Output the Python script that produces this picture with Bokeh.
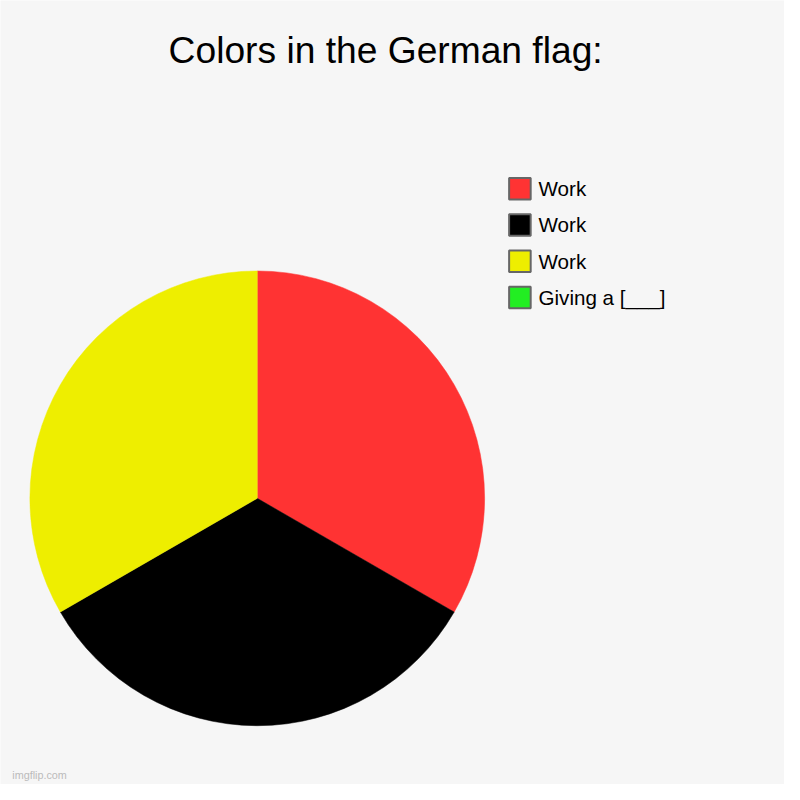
import numpy as np
from bokeh.plotting import figure
from bokeh.models import ColumnDataSource, Range1d
from bokeh.core.properties import value
from bokeh.embed import file_html
from bokeh.resources import INLINE

title_text = "Colors in the German flag:"
labels = ["Work", "Work", "Work", "Giving a [___]"]
values = [1, 1, 1, 0]
colors = ["#ff3333", "#000000", "#eeee00", "#22ee22"]

BG = "#f6f6f6"
FONT = "Liberation Sans"
S = 784 / 800  # pixel scale of the 784px figure vs the 800px reference

p = figure(width=784, height=784, output_backend="svg", toolbar_location=None,
           x_range=Range1d(0, 800), y_range=Range1d(0, 800),
           min_border=0, background_fill_color=BG, border_fill_color=BG)
p.axis.visible = False
p.grid.visible = False
p.outline_line_color = None

def fs(px):
    return f"{px * S:.1f}px"

# pie (data y = 800 - reference pixel y)
cx, cy, r = 262, 800 - 508, 232
total = sum(values)
frac = np.array(values, dtype=float) / total
cum = np.concatenate([[0], np.cumsum(frac)])
start = np.pi / 2 - cum[:-1] * 2 * np.pi
end = np.pi / 2 - cum[1:] * 2 * np.pi
nz = [i for i, v in enumerate(values) if v > 0]
src_nz = ColumnDataSource(dict(start=start[nz], end=end[nz], color=[colors[i] for i in nz],
                               x=[cx] * len(nz), y=[cy] * len(nz)))
p.wedge(x="x", y="y", radius=r, start_angle="start", end_angle="end",
        direction="clock", fill_color="color", line_color="color", line_width=0.5,
        source=src_nz)

# legend
n = len(labels)
ly = [800 - (192 + 37 * i) for i in range(n)]
p.rect(x=[530] * n, y=ly, width=22, height=22, fill_color=colors,
       line_color="#666666", line_width=2)
p.text(x=[549] * n, y=ly, text=labels, text_font=value(FONT),
       text_font_size=fs(21), text_baseline="middle", text_align="left",
       text_color="#000000")

# title
p.text(x=[393], y=[800 - 50], text=[title_text], text_font=value(FONT),
       text_font_size=fs(38), text_baseline="middle", text_align="center",
       text_color="#000000")

# watermark
p.text(x=[12], y=[800 - 790], text=["imgflip.com"], text_font=value(FONT),
       text_font_size=fs(11), text_baseline="middle", text_align="left",
       text_color="#bbbbbb")

open("out.html", "w").write(file_html(p, INLINE))
